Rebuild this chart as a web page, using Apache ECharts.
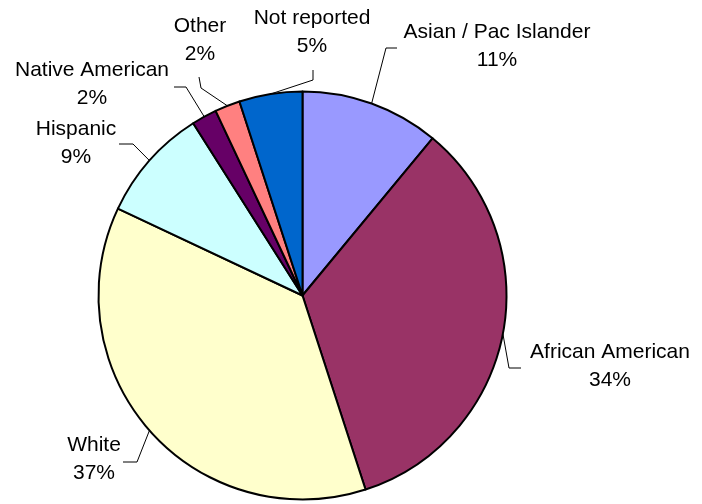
<!DOCTYPE html>
<html>
<head>
<meta charset="utf-8">
<script src="https://cdn.jsdelivr.net/npm/echarts@6/dist/echarts.min.js"></script>
<style>
  html, body { margin: 0; padding: 0; background: #fff; }
  #chart { width: 702px; height: 504px; }
</style>
</head>
<body>
<div id="chart"></div>
<script>
// Share of enrolment by group, percent (clockwise from 12 o'clock)
const groups = ['Asian / Pac Islander', 'African American', 'White', 'Hispanic', 'Native American', 'Other', 'Not reported'];
const shares = [11, 34, 37, 9, 2, 2, 5];
const sliceColors = ['#9999FF', '#993366', '#FFFFCC', '#CCFFFF', '#660066', '#FF8080', '#0066CC'];

// Where each label block sits, and the bend/end of its leader line
const labelSpots = [
  { x: 497, y: 46,  knee: [386, 48],  end: [397, 48] },
  { x: 610, y: 366, knee: [509, 368], end: [521, 368] },
  { x: 94,  y: 459, knee: [137, 462], end: [123, 462] },
  { x: 76,  y: 143, knee: [133, 144], end: [119, 144] },
  { x: 92,  y: 84,  knee: [186, 87],  end: [174, 87] },
  { x: 200, y: 40,  knee: [201, 88],  end: [199, 77] },
  { x: 312, y: 32,  knee: [313, 80],  end: [313, 70] }
];

const CX = 302.5, CY = 295.5, R = 204;

const chart = echarts.init(document.getElementById('chart'), null, { renderer: 'canvas' });

chart.setOption({
  animation: false,
  backgroundColor: '#ffffff',
  series: [{
    type: 'pie',
    center: [CX, CY],
    radius: R,
    startAngle: 90,
    clockwise: true,
    avoidLabelOverlap: false,
    emphasis: { disabled: true },
    itemStyle: { borderColor: '#000000', borderWidth: 2 },
    label: {
      show: true,
      position: 'outside',
      formatter: '{b}\n{c}%',
      fontFamily: 'Liberation Sans, Arial, sans-serif',
      fontSize: 21,
      lineHeight: 28.5,
      color: '#000000',
      align: 'center'
    },
    labelLine: {
      show: true,
      length: 15,
      length2: 10,
      smooth: false,
      lineStyle: { color: '#000000', width: 1 }
    },
    labelLayout: function (params) {
      const spot = labelSpots[params.dataIndex];
      // start of the leader on the rim, at the slice's middle angle
      let start;
      if (params.labelLinePoints && params.labelLinePoints[0]) {
        start = params.labelLinePoints[0];
      } else {
        let before = 0, total = 0;
        shares.forEach(function (v, i) { total += v; if (i < params.dataIndex) before += v; });
        const a = ((before + shares[params.dataIndex] / 2) / total) * Math.PI * 2;
        start = [CX + R * Math.sin(a), CY - R * Math.cos(a)];
      }
      return {
        x: spot.x,
        y: spot.y,
        align: 'center',
        verticalAlign: 'middle',
        labelLinePoints: [start, spot.knee, spot.end]
      };
    },
    data: groups.map(function (name, i) {
      return { name: name, value: shares[i], itemStyle: { color: sliceColors[i] } };
    })
  }]
});
</script>
</body>
</html>
